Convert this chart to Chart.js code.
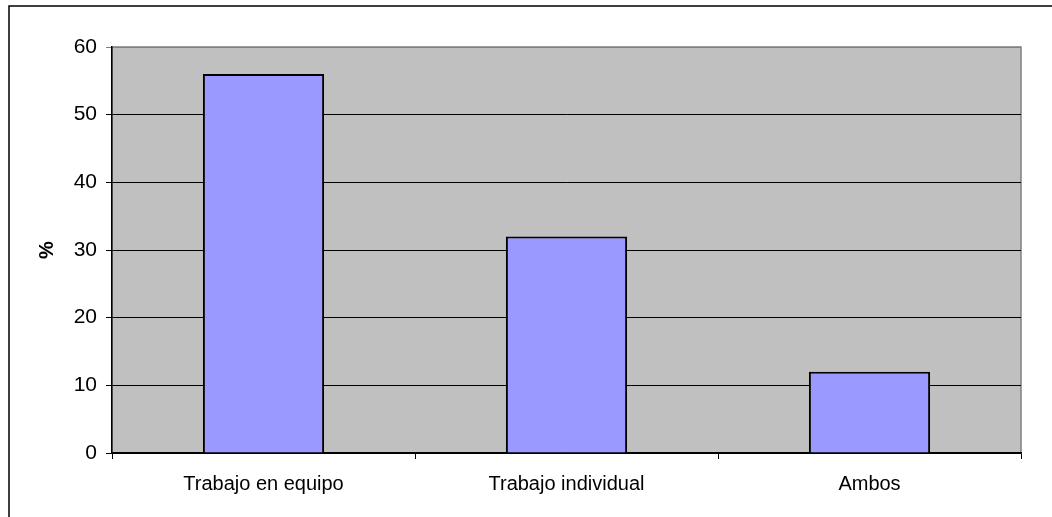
<!DOCTYPE html>
<html lang="es">
<head>
  <meta charset="UTF-8">
  <title>Trabajo en equipo vs individual</title>
  <script src="https://cdn.jsdelivr.net/npm/chart.js"></script>
  <style>
    html, body { margin: 0; padding: 0; background: #fff; }
    #wrap { width: 1052px; height: 517px; }
  </style>
</head>
<body>
  <div id="wrap"><canvas id="barChart" width="1052" height="517"></canvas></div>

  <script>
    const categories = ['Trabajo en equipo', 'Trabajo individual', 'Ambos'];
    const percentages = [56, 32, 12];
    const yTicks = [0, 10, 20, 30, 40, 50, 60];

    const fontFamily = '"Liberation Sans", Arial, sans-serif';

    // plot background, gray frame and the outer chart border
    const frame = {
      id: 'frame',
      beforeDraw(chart) {
        const { ctx, chartArea: a } = chart;
        ctx.save();
        ctx.fillStyle = '#c0c0c0';
        ctx.fillRect(a.left, a.top, a.right - a.left, a.bottom - a.top);
        ctx.strokeStyle = '#808080';
        ctx.lineWidth = 1.5;
        ctx.strokeRect(a.left, a.top, a.right - a.left, a.bottom - a.top);
        ctx.strokeStyle = '#000';
        ctx.lineWidth = 1.5;
        ctx.beginPath();
        ctx.moveTo(9, chart.height + 5);
        ctx.lineTo(9, 6);
        ctx.lineTo(chart.width + 5, 6);
        ctx.stroke();
        ctx.restore();
      }
    };

    new Chart(document.getElementById('barChart'), {
      type: 'bar',
      data: {
        labels: categories,
        datasets: [{
          data: percentages,
          backgroundColor: '#9999ff',
          borderColor: '#000',
          borderWidth: 2,
          categoryPercentage: 1,
          barPercentage: 0.4
        }]
      },
      options: {
        responsive: false,
        animation: false,
        events: [],
        layout: { padding: { left: 0, top: 47, right: 31, bottom: 0 } },
        plugins: {
          legend: { display: false },
          tooltip: { enabled: false }
        },
        scales: {
          x: {
            offset: true,
            afterFit(scale) { scale.height = 64; },
            grid: {
              offset: true,
              drawOnChartArea: false,
              drawTicks: true,
              tickLength: 6,
              color: '#000'
            },
            border: { color: '#000', width: 1.5 },
            ticks: {
              color: '#000',
              padding: 13,
              font: { family: fontFamily, size: 20 }
            }
          },
          y: {
            min: 0,
            max: 60,
            afterFit(scale) { scale.width = 112; },
            afterBuildTicks(scale) { scale.ticks = yTicks.map(v => ({ value: v })); },
            grid: {
              color: ctx => (ctx.tick && ctx.tick.value === 60) ? '#808080' : '#000',
              lineWidth: 1,
              drawTicks: true,
              tickLength: 6
            },
            border: { color: '#000', width: 1.5 },
            ticks: {
              color: '#000',
              padding: 9,
              font: { family: fontFamily, size: 21 }
            },
            title: {
              display: true,
              text: '%',
              color: '#000',
              padding: { top: 35, bottom: 0 },
              font: { family: fontFamily, size: 20, weight: 'bold' }
            }
          }
        }
      },
      plugins: [frame]
    });
  </script>
</body>
</html>
